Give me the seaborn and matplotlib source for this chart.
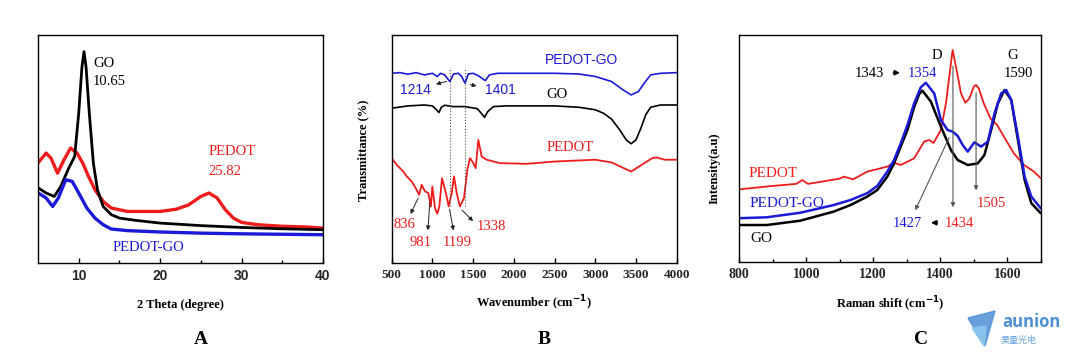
import matplotlib
matplotlib.use("Agg")
import matplotlib.pyplot as plt
import seaborn as sns
from matplotlib.patches import Polygon

#
# Data (intensity in arbitrary units, 0-100 = axis height)
#

# A - XRD
xrd_go_x = [5, 6, 7, 7.8, 8.8, 9.5, 10.0, 10.4, 10.65, 10.9, 11.3, 11.8, 12.3, 13, 14, 15, 17, 20, 25, 30, 35, 40]
xrd_go_y = [33.0, 30.7, 29.2, 33.6, 41.8, 46.7, 65.7, 86.1, 92.7, 86.1, 65.7, 43.8, 32.1, 24.8, 21.2, 19.7, 18.7, 17.5, 16.4, 15.6, 15.0, 14.6]

xrd_pedot_x = [5, 6, 6.6, 7.4, 8.2, 9.0, 9.8, 10.5, 11.2, 12, 13, 14, 16, 18, 20, 22, 23.5, 25, 26, 27, 28, 29, 30, 32, 35, 38, 40]
xrd_pedot_y = [43.9, 48.2, 46.0, 39.4, 45.3, 50.4, 48.2, 43.8, 38.0, 32.1, 27.0, 24.1, 22.6, 22.6, 22.6, 23.6, 25.5, 29.2, 30.7, 28.5, 23.4, 19.7, 17.8, 16.8, 16.1, 15.8, 15.3]

xrd_pgo_x = [5, 6, 6.8, 7.5, 8.4, 9.2, 10, 11, 12, 13, 14, 16, 20, 25, 30, 35, 40]
xrd_pgo_y = [30.8, 28.5, 24.8, 28.5, 36.5, 35.8, 30.7, 24.1, 19.7, 16.8, 14.9, 14.2, 13.6, 13.1, 12.8, 12.6, 12.4]

# B - FTIR
ir_pgo_x = [500, 600, 700, 800, 900, 1000, 1060, 1100, 1150, 1214, 1260, 1320, 1360, 1401, 1440, 1500, 1560, 1650,
            1700, 1800, 2000, 2500, 2800, 3000, 3200, 3330, 3440, 3530, 3600, 3680, 3800, 4000]
ir_pgo_y = [83.2, 83.5, 82.8, 83.5, 82.5, 83.2, 81.8, 83.2, 82.5, 79.6, 82.9, 83.2, 81.8, 78.8, 82.9, 83.2, 82.2, 80.0,
            82.5, 83.2, 83.2, 83.2, 82.9, 81.8, 79.6, 76.2, 73.7, 75.2, 78.8, 82.5, 83.2, 83.5]

ir_go_x = [500, 700, 900, 1000, 1050, 1080, 1110, 1150, 1250, 1400, 1550, 1600, 1640, 1680, 1750, 1900, 2500, 2800,
           3000, 3100, 3200, 3300, 3380, 3440, 3500, 3560, 3620, 3680, 3800, 4000]
ir_go_y = [67.9, 68.9, 69.3, 68.9, 67.2, 66.0, 68.3, 69.2, 68.6, 68.6, 67.7, 65.7, 63.9, 66.4, 68.6, 68.9, 68.9, 68.3,
           67.2, 65.7, 63.1, 58.4, 54.0, 52.3, 54.0, 59.1, 65.0, 68.3, 69.3, 69.3]

ir_pedot_x = [500, 561, 643, 684, 745, 807, 836, 868, 909, 950, 981, 999, 1032, 1060, 1085, 1118, 1155, 1175, 1199,
              1237, 1265, 1298, 1338, 1388, 1429, 1462, 1503, 1531, 1564, 1605, 1666, 1830, 2158, 2500, 3000, 3200,
              3350, 3440, 3550, 3700, 3750, 3850, 4000]
ir_pedot_y = [46.0, 43.1, 40.1, 38.0, 35.8, 32.1, 29.9, 34.3, 31.4, 30.7, 24.8, 33.6, 24.1, 21.6, 24.8, 37.2, 32.1,
              29.2, 24.8, 30.7, 38.0, 30.7, 24.8, 28.5, 40.9, 46.0, 43.8, 41.6, 54.0, 46.7, 45.3, 43.8, 43.5, 44.5,
              45.3, 44.1, 41.6, 40.1, 42.6, 46.0, 46.3, 45.3, 45.3]

# C - Raman
ra_go_x = [800, 882, 982, 1082, 1132, 1182, 1212, 1242, 1262, 1282, 1302, 1322, 1337, 1347, 1372, 1402, 1432, 1452,
           1482, 1512, 1532, 1552, 1572, 1592, 1612, 1632, 1652, 1672, 1700]
ra_go_y = [16.4, 16.4, 18.3, 22.3, 25.2, 28.9, 31.8, 37.7, 43.5, 50.9, 58.2, 68.2, 74.0, 75.5, 70.7, 59.7, 49.4, 45.0,
           42.8, 43.5, 47.2, 58.2, 69.9, 75.8, 71.4, 53.8, 36.2, 26.0, 21.6]

ra_pgo_x = [800, 882, 982, 1082, 1132, 1182, 1212, 1242, 1262, 1282, 1302, 1322, 1342, 1357, 1382, 1402, 1422, 1437,
            1452, 1467, 1482, 1502, 1522, 1542, 1562, 1582, 1597, 1612, 1632, 1652, 1672, 1700]
ra_pgo_y = [19.4, 19.8, 21.8, 25.2, 27.4, 30.4, 33.6, 39.9, 45.0, 52.3, 60.4, 69.9, 77.0, 79.0, 74.3, 62.6, 58.2, 57.5,
            55.6, 51.6, 48.7, 52.8, 50.9, 53.1, 65.5, 74.3, 75.8, 71.4, 55.3, 37.7, 28.9, 23.8]

ra_pedot_x = [800, 900, 970, 988, 1005, 1100, 1112, 1140, 1182, 1242, 1262, 1282, 1322, 1352, 1367, 1380, 1402, 1417,
              1427, 1437, 1447, 1462, 1475, 1487, 1500, 1507, 1515, 1530, 1550, 1570, 1590, 1620, 1650, 1680, 1700]
ra_pedot_y = [32.1, 33.6, 34.5, 36.2, 34.5, 36.8, 37.7, 36.5, 39.9, 42.1, 43.8, 42.8, 45.7, 53.1, 53.8, 52.5, 58.2,
              69.9, 81.7, 93.4, 86.1, 74.3, 70.2, 72.1, 77.3, 78.0, 76.5, 69.9, 63.3, 60.4, 55.3, 47.9, 42.8, 39.9, 37.0]

RED = '#ee1c1c'
BLUE = '#1a1ad8'
BLACK = '#000000'

#
# Figure
#

sns.set_theme(style='ticks')
plt.rcParams['font.family'] = ['Liberation Serif', 'DejaVu Serif']
plt.rcParams['xtick.direction'] = 'in'
plt.rcParams['ytick.direction'] = 'in'

fig = plt.figure(figsize=(10.76, 3.56), dpi=100)
axA = fig.add_axes([38/1076, 93/356, 285/1076, 228/356])
axB = fig.add_axes([391.7/1076, 93/356, 285/1076, 228/356])
axC = fig.add_axes([739.3/1076, 93.7/356, 301.4/1076, 227.3/356])

for ax in (axA, axB, axC):
    ax.set_ylim(0, 100)
    ax.set_yticks([])
    for sp in ax.spines.values():
        sp.set_visible(True)
        sp.set_color('black')
        sp.set_linewidth(1.0)
    ax.tick_params(axis='x', which='major', length=3.5, width=1, color='black', pad=4)
    ax.tick_params(axis='x', which='minor', length=2, width=1, color='black')

# --- A : XRD
sns.lineplot(x=xrd_pedot_x, y=xrd_pedot_y, color=RED, lw=2.4, ax=axA)
sns.lineplot(x=xrd_go_x, y=xrd_go_y, color=BLACK, lw=2.0, ax=axA)
sns.lineplot(x=xrd_pgo_x, y=xrd_pgo_y, color=BLUE, lw=2.4, ax=axA)
axA.set_xlim(5, 40)
axA.set_xticks([10, 20, 30, 40])
axA.set_xticks([15, 25, 35], minor=True)
for lab in axA.get_xticklabels():
    lab.set_family(['Liberation Sans', 'DejaVu Sans'])
    lab.set_fontweight('bold')
    lab.set_fontsize(10)
axA.set_xlabel('2 Theta (degree)', fontsize=9, fontweight='bold', labelpad=12, color='black')
axA.set_ylabel('')
axA.text(11.75, 87.7, 'GO', fontsize=10.5, color=BLACK, va='center')
axA.text(11.75, 79.4, '10.65', fontsize=10.5, color=BLACK, va='center')
axA.text(25.9, 48.8, 'PEDOT', fontsize=10.5, color=RED, va='center')
axA.text(25.9, 40.0, '25.82', fontsize=10.5, color=RED, va='center')
axA.text(14.2, 6.6, 'PEDOT-GO', fontsize=10.5, color=BLUE, va='center')

# --- B : FTIR
sns.lineplot(x=ir_pgo_x, y=ir_pgo_y, color=BLUE, lw=1.2, ax=axB)
sns.lineplot(x=ir_go_x, y=ir_go_y, color=BLACK, lw=1.2, ax=axB)
sns.lineplot(x=ir_pedot_x, y=ir_pedot_y, color=RED, lw=1.3, ax=axB)
axB.set_xlim(500, 4000)
axB.set_xticks(range(500, 4001, 500))
for lab in axB.get_xticklabels():
    lab.set_fontweight('bold')
    lab.set_fontsize(9.5)
axB.set_xlabel('Wavenumber (cm$^{\\mathbf{-1}}$)', fontsize=9, fontweight='bold', labelpad=10, color='black')
axB.set_ylabel('')

for xv in (1214, 1401):
    axB.plot([xv, xv], [24.8, 85.4], ls=':', lw=0.8, color='#555555')

sans = ['Liberation Sans', 'DejaVu Sans']
axB.text(2383, 89.1, 'PEDOT-GO', fontsize=10, color=BLUE, va='center', family=sans)
axB.text(602, 75.9, '1214', fontsize=10, color=BLUE, va='center', family=sans)
axB.text(1646, 75.9, '1401', fontsize=10, color=BLUE, va='center', family=sans)
axB.text(2404, 73.7, 'GO', fontsize=10.5, color=BLACK, va='center')
axB.text(2404, 50.8, 'PEDOT', fontsize=10.5, color=RED, va='center')
axB.text(651, 16.8, '836', fontsize=10.5, color=RED, va='center', ha='center')
axB.text(848, 8.8, '981', fontsize=10.5, color=RED, va='center', ha='center')
axB.text(1302, 8.8, '1199', fontsize=10.5, color=RED, va='center', ha='center')
axB.text(1728, 16.1, '1338', fontsize=10.5, color=RED, va='center', ha='center')

arr = dict(arrowstyle='-|>', color='#222222', lw=0.7, mutation_scale=6)
for (x0, y0), (x1, y1) in [((1208, 80.0), (1011, 78.1)),
                           ((1429, 78.5), (1576, 77.4)),
                           ((839, 29.5), (717, 20.4)),
                           ((970, 27.7), (942, 13.1)),
                           ((1204, 24.8), (1265, 13.1)),
                           ((1339, 24.1), (1523, 17.5))]:
    axB.annotate('', xy=(x1, y1), xytext=(x0, y0), arrowprops=arr)

# --- C : Raman
sns.lineplot(x=ra_pedot_x, y=ra_pedot_y, color=RED, lw=1.3, ax=axC)
sns.lineplot(x=ra_go_x, y=ra_go_y, color=BLACK, lw=1.8, ax=axC)
sns.lineplot(x=ra_pgo_x, y=ra_pgo_y, color=BLUE, lw=1.8, ax=axC)
axC.set_xlim(800, 1700)
axC.set_xticks(range(800, 1601, 200))
axC.set_xticks(range(900, 1701, 200), minor=True)
for lab in axC.get_xticklabels():
    lab.set_fontweight('bold')
    lab.set_fontsize(10)
axC.set_xlabel('Raman shift (cm$^{\\mathbf{-1}}$)', fontsize=9, fontweight='bold', labelpad=10, color='black')
axC.set_ylabel('')

# y labels (no y ticks on the panels)
fig.text(363/1076, 1 - 150/356, 'Transmittance (%)', fontsize=9, fontweight='bold', rotation=90,
         ha='center', va='center', color='black')
fig.text(715/1076, 1 - 168/356, 'Intensity(a.u)', fontsize=9, fontweight='bold', rotation=90,
         ha='center', va='center', color='black')

axC.text(1389, 91.2, 'D', fontsize=10.5, color=BLACK, ha='center', va='center')
axC.text(1189, 83.1, '1343', fontsize=10.5, color=BLACK, ha='center', va='center')
axC.text(1347, 83.1, '1354', fontsize=10.5, color=BLUE, ha='center', va='center')
axC.text(1617, 91.2, 'G', fontsize=10.5, color=BLACK, ha='center', va='center')
axC.text(1632, 83.1, '1590', fontsize=10.5, color=BLACK, ha='center', va='center')
axC.text(827, 39.1, 'PEDOT', fontsize=11, color=RED, va='center')
axC.text(830, 26.0, 'PEDOT-GO', fontsize=11, color=BLUE, va='center')
axC.text(832, 10.6, 'GO', fontsize=11, color=BLACK, va='center')
axC.text(1302, 17.2, '1427', fontsize=10.5, color=BLUE, ha='center', va='center')
axC.text(1457, 17.2, '1434', fontsize=10.5, color=RED, ha='center', va='center')
axC.text(1552, 26.0, '1505', fontsize=10.5, color=RED, ha='center', va='center')

small = dict(arrowstyle='-|>', color='black', lw=1.2, mutation_scale=7)
axC.annotate('', xy=(1288, 83.4), xytext=(1252, 83.4), arrowprops=small)
axC.annotate('', xy=(1364, 17.4), xytext=(1400, 17.4), arrowprops=small)
thin = dict(arrowstyle='-|>', color='#555555', lw=0.8, mutation_scale=6)
axC.annotate('', xy=(1438, 23.0), xytext=(1438, 87.5), arrowprops=thin)
axC.annotate('', xy=(1507, 30.4), xytext=(1507, 75.8), arrowprops=thin)
axC.annotate('', xy=(1322, 21.8), xytext=(1430, 56.0), arrowprops=thin)

# panel letters
for xp, letter in [(201, 'A'), (544, 'B'), (921, 'C')]:
    fig.text(xp/1076, 1 - 340/356, letter, fontsize=14, fontweight='bold', ha='center', va='center',
             color='black')

# watermark
fig.patches.append(Polygon([(968/1076, 1-318/356), (995/1076, 1-311/356), (985/1076, 1-346/356)],
                           closed=True, transform=fig.transFigure, color='#4d8fd6', alpha=0.85))
fig.patches.append(Polygon([(972/1076, 1-328/356), (986/1076, 1-326/356), (984/1076, 1-346/356)],
                           closed=True, transform=fig.transFigure, color='#8cc6ee', alpha=0.9))
fig.text(1031/1076, 1-322/356, 'aunion', fontsize=12, fontweight='bold', color='#4d8fd6',
         ha='center', va='center', family=['Open Sans', 'DejaVu Sans'])
fig.text(1019/1076, 1-340/356, '昊量光电', fontsize=6.5, color='#6aa5de',
         ha='center', va='center', family=['Noto Sans CJK SC', 'DejaVu Sans'])

fig.savefig('out.png', dpi=100)
